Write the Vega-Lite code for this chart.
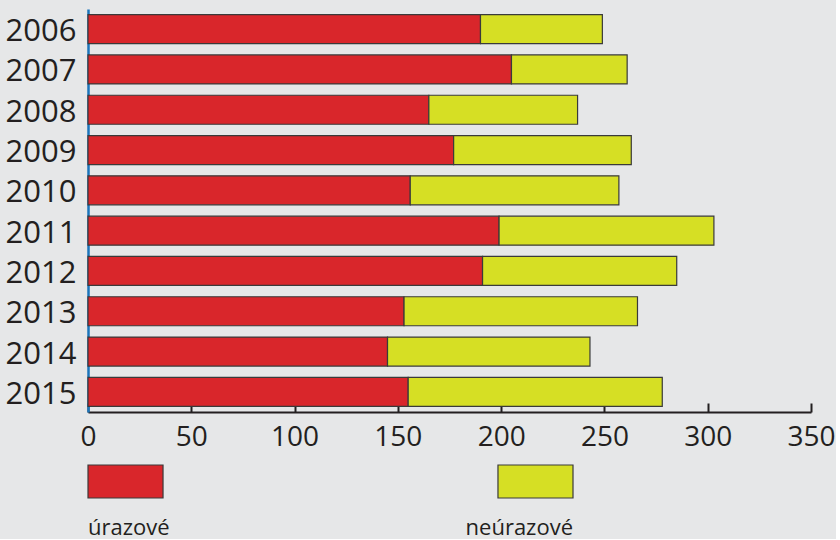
{
  "$schema": "https://vega.github.io/schema/vega-lite/v6.json",
  "background": "#e6e7e8",
  "padding": {"left": 5, "top": 9, "right": 0, "bottom": 0},
  "config": {
    "view": {"stroke": null},
    "font": "Open Sans"
  },
  "bounds": "flush",
  "spacing": 53,
  "datasets": {
    "pripady": [
      {"rok": 2006, "typ": "úrazové", "pocet": 190},
      {"rok": 2006, "typ": "neúrazové", "pocet": 59},
      {"rok": 2007, "typ": "úrazové", "pocet": 205},
      {"rok": 2007, "typ": "neúrazové", "pocet": 56},
      {"rok": 2008, "typ": "úrazové", "pocet": 165},
      {"rok": 2008, "typ": "neúrazové", "pocet": 72},
      {"rok": 2009, "typ": "úrazové", "pocet": 177},
      {"rok": 2009, "typ": "neúrazové", "pocet": 86},
      {"rok": 2010, "typ": "úrazové", "pocet": 156},
      {"rok": 2010, "typ": "neúrazové", "pocet": 101},
      {"rok": 2011, "typ": "úrazové", "pocet": 199},
      {"rok": 2011, "typ": "neúrazové", "pocet": 104},
      {"rok": 2012, "typ": "úrazové", "pocet": 191},
      {"rok": 2012, "typ": "neúrazové", "pocet": 94},
      {"rok": 2013, "typ": "úrazové", "pocet": 153},
      {"rok": 2013, "typ": "neúrazové", "pocet": 113},
      {"rok": 2014, "typ": "úrazové", "pocet": 145},
      {"rok": 2014, "typ": "neúrazové", "pocet": 98},
      {"rok": 2015, "typ": "úrazové", "pocet": 155},
      {"rok": 2015, "typ": "neúrazové", "pocet": 123}
    ]
  },
  "data": {"name": "pripady"},
  "vconcat": [
    {
      "width": 723,
      "height": 403,
      "mark": {"type": "bar", "stroke": "#3a3a3a", "strokeWidth": 1.2},
      "encoding": {
        "y": {
          "field": "rok",
          "type": "ordinal",
          "scale": {"paddingInner": 0.28, "paddingOuter": 0.14},
          "axis": {
            "title": null,
            "domainColor": "#1b75bb",
            "domainWidth": 2.5,
            "ticks": false,
            "labelFontSize": 31,
            "labelColor": "#231f20",
            "labelPadding": 12,
            "labelOffset": 3
          }
        },
        "x": {
          "field": "pocet",
          "type": "quantitative",
          "stack": "zero",
          "scale": {"domain": [0, 350], "nice": false},
          "axis": {
            "title": null,
            "values": [0, 50, 100, 150, 200, 250, 300, 350],
            "grid": false,
            "domainColor": "#231f20",
            "domainWidth": 2,
            "tickColor": "#231f20",
            "tickWidth": 2,
            "tickSize": -9,
            "labelFontSize": 28,
            "labelColor": "#231f20",
            "labelPadding": 20,
            "labelFlush": false
          }
        },
        "color": {
          "field": "typ",
          "type": "nominal",
          "scale": {"domain": ["úrazové", "neúrazové"], "range": ["#d9262b", "#d6df24"]},
          "legend": null
        },
        "order": {"field": "typ", "sort": "descending"}
      }
    },
    {
      "width": 485,
      "height": 33,
      "transform": [
        {"aggregate": [{"op": "count", "as": "n"}], "groupby": ["typ"]}
      ],
      "encoding": {
        "x": {
          "field": "typ",
          "type": "nominal",
          "scale": {"domain": ["úrazové", "neúrazové"], "paddingInner": 0.817, "paddingOuter": 0},
          "axis": null
        }
      },
      "layer": [
        {
          "mark": {"type": "bar", "stroke": "#3a3a3a", "strokeWidth": 1.2},
          "encoding": {
            "color": {
              "field": "typ",
              "type": "nominal",
              "scale": {"domain": ["úrazové", "neúrazové"], "range": ["#d9262b", "#d6df24"]},
              "legend": null
            }
          }
        },
        {
          "transform": [{"filter": "datum.typ == 'úrazové'"}],
          "mark": {"type": "text", "align": "left", "baseline": "alphabetic", "dy": 53, "fontSize": 22, "color": "#231f20"},
          "encoding": {
            "x": {"field": "typ", "type": "nominal", "bandPosition": 0},
            "text": {"field": "typ"}
          }
        },
        {
          "transform": [{"filter": "datum.typ == 'neúrazové'"}],
          "mark": {"type": "text", "align": "right", "baseline": "alphabetic", "dy": 53, "fontSize": 22, "color": "#231f20"},
          "encoding": {
            "x": {"field": "typ", "type": "nominal", "bandPosition": 1},
            "text": {"field": "typ"}
          }
        }
      ]
    }
  ]
}
